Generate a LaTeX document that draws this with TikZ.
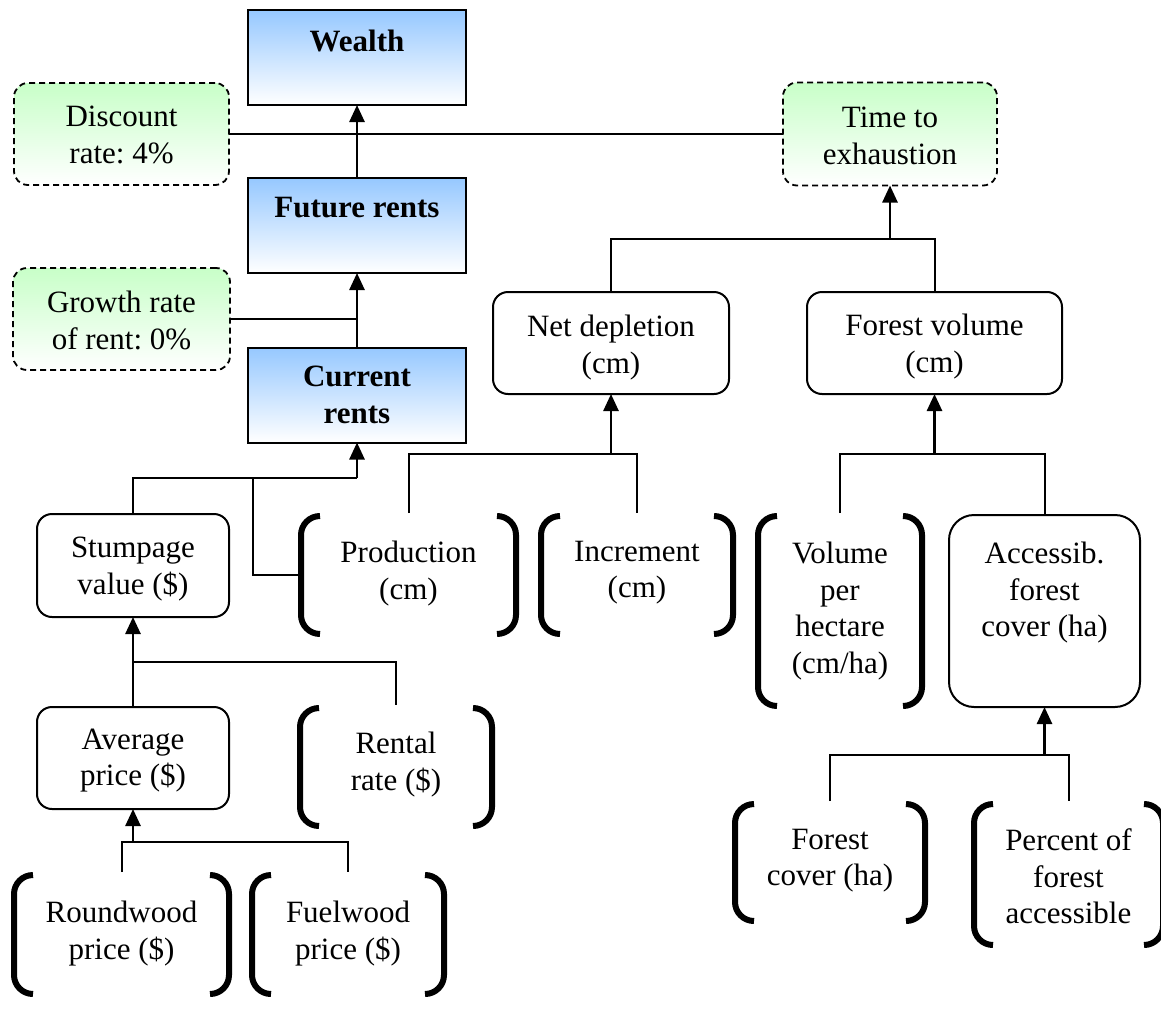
\documentclass[tikz,border=0pt]{standalone}
\usepackage{fontspec}
\setmainfont{Liberation Serif}
\usetikzlibrary{arrows.meta,calc}
\definecolor{blueTop}{RGB}{150,200,255}
\definecolor{greenTop}{RGB}{200,255,200}
\newcommand\figfont{\fontsize{31pt}{36.5pt}\selectfont}
\newcommand\brackets[1]{%
  \draw[brkline] ($(#1.north west)+(22pt,-3pt)$) arc[start angle=90,end angle=180,radius=19pt]
     -- ($(#1.south west)+(3pt,22pt)$) arc[start angle=180,end angle=270,radius=19pt];
  \draw[brkline] ($(#1.north east)+(-22pt,-3pt)$) arc[start angle=90,end angle=0,radius=19pt]
     -- ($(#1.south east)+(-3pt,22pt)$) arc[start angle=0,end angle=-90,radius=19pt];}
\tikzset{
  x=1pt,y=1pt,
  shapebase/.style={inner sep=0pt,outer sep=0pt},
  bluebox/.style={shapebase,draw,line width=2pt,top color=blueTop,middle color=blueTop!35!white,bottom color=white,minimum width=218pt,minimum height=95pt},
  greenbox/.style={shapebase,draw,line width=1.8pt,dash pattern=on 6pt off 4pt,rounded corners=14pt,top color=greenTop,middle color=greenTop!40!white,bottom color=white},
  roundbox/.style={shapebase,draw,line width=2pt,rounded corners=15pt,fill=white},
  brkbox/.style={shapebase},
  brkline/.style={line width=6pt,line cap=butt},
  label/.style={inner sep=0pt,outer sep=0pt,anchor=north,align=center,font=\figfont},
  bold/.style={font=\figfont\bfseries},
  conn/.style={line width=2pt},
  arr/.style={line width=2.6pt,-{Triangle[length=17pt,width=15pt]}},
}
\frenchspacing
\begin{document}
\begin{tikzpicture}
\useasboundingbox (0,0) rectangle (1161,-1017);
% shapes
\node[bluebox] (wealth) at (357,-57.5) {};
\node[bluebox] (fut) at (357,-225.5) {};
\node[bluebox] (cur) at (357,-395) {};
\node[greenbox,minimum width=215pt,minimum height=102pt] (disc) at (121.5,-134) {};
\node[greenbox,minimum width=217pt,minimum height=102pt] (grow) at (121.5,-319) {};
\node[greenbox,minimum width=214pt,minimum height=103pt] (time) at (890,-134) {};
\node[roundbox,minimum width=236pt,minimum height=102pt] (net) at (611,-343) {};
\node[roundbox,minimum width=255pt,minimum height=102pt] (fv) at (934.5,-343) {};
\node[roundbox,minimum width=192pt,minimum height=103pt] (stump) at (133,-565.5) {};
\node[roundbox,minimum width=192pt,minimum height=102pt] (avg) at (133,-758) {};
\node[roundbox,rounded corners=25pt,minimum width=191pt,minimum height=192pt] (acc) at (1044.5,-611) {};
\node[brkbox,minimum width=221pt,minimum height=124pt] (prod) at (408.5,-575) {};
\node[brkbox,minimum width=198pt,minimum height=124pt] (inc) at (637,-575) {};
\node[brkbox,minimum width=170pt,minimum height=196pt] (vol) at (840,-611) {};
\node[brkbox,minimum width=198pt,minimum height=124pt] (rent) at (396,-767) {};
\node[brkbox,minimum width=221pt,minimum height=125pt] (round) at (121.5,-934.5) {};
\node[brkbox,minimum width=198pt,minimum height=125pt] (fuel) at (348,-934.5) {};
\node[brkbox,minimum width=196pt,minimum height=123pt] (fcov) at (830,-862.5) {};
\node[brkbox,minimum width=195pt,minimum height=147pt] (pct) at (1068.5,-874.5) {};
\brackets{prod}
\brackets{inc}
\brackets{vol}
\brackets{rent}
\brackets{round}
\brackets{fuel}
\brackets{fcov}
\brackets{pct}
% labels
\node[label,bold] (t-wealth) at (357,-30) {Wealth};
\node[label,bold] (t-fut) at (357,-197) {Future rents};
\node[label,bold] (t-cur) at (357,-366) {Current\\rents};
\node[label] (t-disc) at (121.5,-106) {Discount\\rate: 4\%};
\node[label] (t-grow) at (121.5,-291) {Growth rate\\of rent: 0\%};
\node[label] (t-time) at (890,-107) {Time to\\exhaustion};
\node[label] (t-net) at (611,-315) {Net depletion\\(cm)};
\node[label] (t-fv) at (934.5,-314) {Forest volume\\(cm)};
\node[label] (t-stump) at (133,-537) {Stumpage\\value (\$)};
\node[label] (t-prod) at (408.5,-541) {Production\\(cm)};
\node[label] (t-inc) at (637,-541) {Increment\\(cm)};
\node[label] (t-vol) at (840,-542) {Volume\\per\\hectare\\(cm/ha)};
\node[label] (t-acc) at (1044.5,-542) {Accessib.\\forest\\cover (ha)};
\node[label] (t-avg) at (133,-729) {Average\\price (\$)};
\node[label] (t-rent) at (396,-732) {Rental\\rate (\$)};
\node[label] (t-round) at (121.5,-901) {Roundwood\\price (\$)};
\node[label] (t-fuel) at (348,-901) {Fuelwood\\price (\$)};
\node[label] (t-fcov) at (830,-829) {Forest\\cover (ha)};
\node[label] (t-pct) at (1068.5,-829) {Percent of\\forest\\accessible};
% junctions
\coordinate (j1) at (890,-239);
\coordinate (j2) at (357,-478);
\coordinate (j2b) at (253,-478);
\coordinate (j3) at (611,-454);
\coordinate (j4) at (934.5,-454);
\coordinate (j5) at (1044.5,-755);
\coordinate (j6) at (133,-662);
\coordinate (j7) at (133,-842);
% connectors
\draw[conn] (disc.east) -- (time.west);
\draw[conn] (grow.east) -- (grow.east -| fut.south);
\draw[arr] (fut.north) -- (wealth.south);
\draw[arr] (cur.north) -- (fut.south);
\draw[conn] (net.north) |- (j1) -| (fv.north);
\draw[arr] (j1) -- (time.south);
\draw[conn] (stump.north) |- (j2);
\draw[conn] (j2b) |- (prod.west);
\draw[arr] (j2) -- (cur.south);
\draw[conn] (prod.north) |- (j3) -| (inc.north);
\draw[arr] (j3) -- (net.south);
\draw[conn] (vol.north) |- (j4) -| (acc.north);
\draw[arr] (j4) -- (fv.south);
\draw[conn] (fcov.north) |- (j5) -| (pct.north);
\draw[arr] (j5) -- (acc.south);
\draw[arr] (avg.north) -- (stump.south);
\draw[conn] (j6) -| (rent.north);
\draw[conn] (round.north) |- (j7) -| (fuel.north);
\draw[arr] (j7) -- (avg.south);
\end{tikzpicture}
\end{document}
